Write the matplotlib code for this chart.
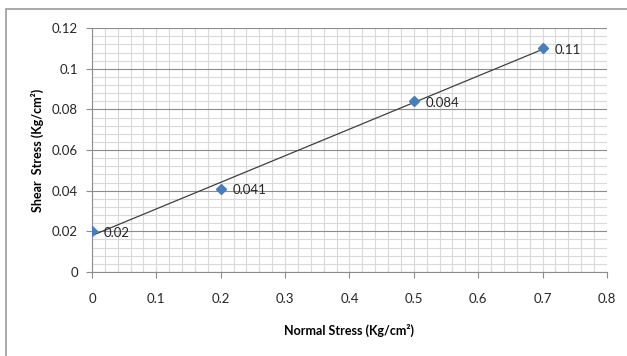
import numpy as np
import matplotlib.pyplot as plt
import matplotlib.ticker as ticker
from matplotlib.patches import Rectangle

# normal stress vs shear stress readings
normal_stress = [0.0, 0.2, 0.5, 0.7]
shear_stress = [0.02, 0.041, 0.084, 0.11]
point_labels = ['0.02', '0.041', '0.084', '0.11']

plt.rcParams['font.family'] = ['Lato', 'DejaVu Sans']

fig = plt.figure(figsize=(6.27, 3.56), dpi=100)
ax = fig.add_axes([0.1467, 0.236, 0.8213, 0.685])

# outer chart frame (top and left edges only visible)
fig.patches.append(Rectangle((6 / 627, -0.1), 1.2, (356 - 9) / 356 + 0.1,
                             transform=fig.transFigure, fill=False,
                             edgecolor='#999999', linewidth=1.2))

# linear trendline through the points
slope, icpt = np.polyfit(normal_stress, shear_stress, 1)
xs = np.array([min(normal_stress), max(normal_stress)])
ax.plot(xs, slope * xs + icpt, color='#404040', linewidth=0.9, zorder=3)

ax.plot(normal_stress, shear_stress, linestyle='none', marker='D',
        markersize=5.5, color='#4a7ebb', zorder=4)
for x, y, s in zip(normal_stress, shear_stress, point_labels):
    ax.annotate(s, (x, y), xytext=(8.5, -1), textcoords='offset points',
                ha='left', va='center', fontsize=9.5, color='#262626')

ax.set_xlim(0, 0.8)
ax.set_ylim(0, 0.12)
ax.xaxis.set_major_locator(ticker.MultipleLocator(0.1))
ax.xaxis.set_minor_locator(ticker.MultipleLocator(0.02))
ax.yaxis.set_major_locator(ticker.MultipleLocator(0.02))
ax.yaxis.set_minor_locator(ticker.MultipleLocator(0.004))
ax.xaxis.set_major_formatter(ticker.FuncFormatter(lambda v, p: ('%.2f' % v).rstrip('0').rstrip('.') if v else '0'))
ax.yaxis.set_major_formatter(ticker.FuncFormatter(lambda v, p: ('%.3f' % v).rstrip('0').rstrip('.') if v else '0'))

ax.grid(which='minor', axis='both', color='#d9d9d9', linewidth=0.8)
ax.grid(which='major', axis='x', color='#d9d9d9', linewidth=0.8)
ax.grid(which='major', axis='y', color='#8c8c8c', linewidth=0.8)
ax.set_axisbelow(True)

for side in ['top', 'right']:
    ax.spines[side].set_visible(False)
for side in ['left', 'bottom']:
    ax.spines[side].set_color('#8c8c8c')
    ax.spines[side].set_linewidth(0.8)

ax.tick_params(which='major', length=4, color='#8c8c8c', labelsize=9.5, labelcolor='#262626')
ax.tick_params(which='minor', length=0)
ax.tick_params(axis='x', pad=11)
ax.tick_params(axis='y', pad=6)

ax.set_xlabel('Normal Stress (Kg/cm²)', fontsize=9, fontweight='bold', labelpad=14)
ax.set_ylabel('Shear  Stress (Kg/cm²)', fontsize=9, fontweight='bold', labelpad=6)

fig.savefig('out.png', dpi=100)
